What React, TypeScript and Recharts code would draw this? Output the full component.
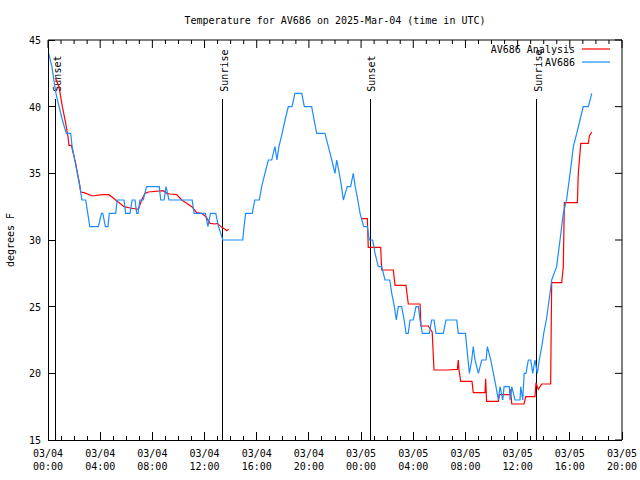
import React from "react";
import {
  LineChart,
  Line,
  XAxis,
  YAxis,
  ReferenceLine,
} from "recharts";

// hours since 03/04 00:00 UTC
const blueHours = [
  0.05, 0.3, 0.45, 0.61, 0.85, 1.1, 1.4, 1.74, 1.85, 2.05, 2.25, 2.45, 2.6, 2.89, 3.05, 3.2, 3.86,
  4.1, 4.2, 4.4, 4.6, 4.7, 5.19, 5.3, 5.83, 5.95, 6.29, 6.45, 6.67, 6.8, 6.9, 7.05, 7.3, 7.55,
  8.53, 8.64, 8.9, 9.05, 9.27, 11.05, 11.2, 12.06, 12.26, 12.45, 12.86, 13.07, 13.4, 14.93,
  15.03, 15.15, 15.66, 15.85, 16.2, 16.38, 16.63, 16.89, 17.15, 17.4, 17.55, 17.7, 17.95,
  18.17, 18.42, 18.7, 18.93, 19.45, 19.65, 20.21, 20.4, 20.6, 21.23, 21.49, 21.75, 22.0,
  22.13, 22.33, 22.5, 22.64, 22.94, 23.2, 23.4, 23.55, 23.75, 23.92, 24.2, 24.48, 24.63,
  24.89, 25.07, 25.32, 25.58, 25.83, 26.2, 26.35, 26.55, 26.7, 26.85, 27.11, 27.3, 27.45,
  27.62, 27.75, 28.0, 28.21, 28.39, 28.52, 28.7, 29.23, 29.41, 29.59, 29.74, 30.3, 30.51,
  31.33, 31.45, 32.0, 32.1, 32.2, 32.3, 32.48, 32.6, 32.73, 32.99, 33.25, 33.58, 33.68,
  33.94, 34.14, 34.34, 34.52, 34.65, 34.86, 34.96, 35.36, 35.42, 35.55, 35.8, 36.18, 36.24,
  36.39, 36.5, 36.64, 36.82, 37.0, 37.16, 37.33, 37.51, 37.66, 37.85, 38.0, 38.2, 38.48,
  38.61, 38.99, 39.25, 39.5, 39.75, 40.02, 40.27, 40.53, 40.78, 41.03, 41.42, 41.68,
];
const blueTemps = [
  44, 43, 42, 41, 40, 39, 38, 38, 37, 36, 35, 34, 33, 33, 32, 31, 31,
  32, 32, 31, 31, 32, 32, 33, 33, 32, 32, 33, 33, 32, 32, 33, 33, 34,
  34, 33, 33, 34, 33, 33, 32, 32, 31, 32, 32, 31, 30, 30,
  31, 32, 32, 33, 33, 34, 35, 36, 36, 37, 36, 37, 38,
  39, 40, 40, 41, 41, 40, 40, 39, 38, 38, 37, 36, 35,
  36, 35, 34, 33, 34, 34, 35, 34, 33, 32, 31, 31, 30,
  30, 29, 28, 28, 27, 27, 26, 25, 24, 25, 25, 24, 23,
  23, 24, 24, 25, 25, 24, 23, 23, 24, 24, 23, 23, 24,
  24, 23, 23, 22, 21, 20, 21, 22, 21, 20, 21, 21, 22,
  21, 20, 19, 18, 19, 18, 19, 19, 18, 19, 18, 18, 19,
  18, 20, 20, 21, 21, 20, 21, 20, 21, 22, 23, 24, 26,
  27, 28, 30, 32, 33, 35, 37, 38, 39, 40, 40, 41,
];

const redHours = [
  0.59, 0.84, 1.1, 1.36, 1.53, 1.61, 1.79, 2.12, 2.38, 2.51, 2.76, 3.4, 4.16, 4.68, 5.19,
  5.83, 6.29, 6.92, 7.18, 7.44, 7.69, 8.84, 9.1, 9.35, 9.87, 10.25, 10.63, 11.02, 11.4,
  11.78, 12.11, 12.42, 12.8, 12.98, 13.32, 13.57, 13.7, 13.85,
  18,
  24.05, 24.48, 24.55, 25.5, 25.58, 26.47, 26.6, 27.44, 27.62, 28.52, 28.59, 29.15, 29.45,
  29.59, 30.56, 31.38, 31.45, 31.5, 31.64, 32.5, 32.6, 33.5, 33.55, 33.62, 34.52, 34.6,
  35.4, 35.45, 35.55, 36.49, 36.62, 37.33, 37.41, 37.58, 37.85, 38.53, 38.61, 39.38, 39.5,
  39.58, 40.58, 40.65, 40.84, 41.42, 41.5, 41.68,
];
const redTemps: (number | null)[] = [
  42.1, 41.5, 40, 38.75, 37.75, 37.1, 37.1, 35.75, 34.4, 33.6, 33.55, 33.3, 33.4, 33.4, 33,
  32.5, 32.4, 32.3, 33, 33.5, 33.6, 33.7, 33.5, 33.45, 33.4, 33, 32.75, 32.5, 32.05,
  32, 31.75, 31.25, 31.2, 31.25, 30.95, 30.8, 30.7, 30.8,
  null,
  31.6, 31.6, 29.45, 29.45, 27.75, 27.75, 26.6, 26.6, 25.2, 25.2, 23.55, 23.55, 23.1,
  20.25, 20.25, 20.3, 21, 20.3, 19.4, 19.4, 18.55, 18.55, 19.6, 17.9, 17.9, 18.4,
  18.4, 18.8, 17.7, 17.7, 18.25, 18.25, 19.3, 18.8, 19.2, 19.2, 26.8, 26.8, 28,
  32.8, 32.8, 35, 37.25, 37.25, 37.8, 38.1,
];

const sunHours = [0.61, 13.38, 24.72, 37.45];
const sunNames = ["Sunset", "Sunrise", "Sunset", "Sunrise"];
const sunLineTop = 40.6;

const majorHours = [0, 4, 8, 12, 16, 20, 24, 28, 32, 36, 40, 44];
const tickDates = ["03/04", "03/04", "03/04", "03/04", "03/04", "03/04", "03/05", "03/05", "03/05", "03/05", "03/05", "03/05"];
const tickTimes = ["00:00", "04:00", "08:00", "12:00", "16:00", "20:00", "00:00", "04:00", "08:00", "12:00", "16:00", "20:00"];
const yTicks = [15, 20, 25, 30, 35, 40, 45];

const X_MIN = 0;
const X_MAX = 44;
const Y_MIN = 15;
const Y_MAX = 45;

const blueData = blueHours.map((t, i) => ({ t, v: blueTemps[i] }));
const redData = redHours.map((t, i) => ({ t, v: redTemps[i] }));
const hourTicks = Array.from({ length: 45 }, (_, i) => i);

const FONT = "'DejaVu Sans Mono', monospace";
const txt = { fontFamily: FONT, fontSize: 10, fill: "#000" };

const BottomTick = ({ x, y, payload }: any) => {
  const i = majorHours.indexOf(payload.value);
  return (
    <g>
      <line x1={x} y1={y} x2={x} y2={y - (i >= 0 ? 8 : 4)} stroke="#000" shapeRendering="crispEdges" />
      {i >= 0 && (
        <>
          <text x={x} y={y + 17} textAnchor="middle" {...txt}>{tickDates[i]}</text>
          <text x={x} y={y + 30} textAnchor="middle" {...txt}>{tickTimes[i]}</text>
        </>
      )}
    </g>
  );
};

const LeftTick = ({ x, y, payload }: any) => (
  <g>
    <line x1={x} y1={y} x2={x + 7} y2={y} stroke="#000" shapeRendering="crispEdges" />
    <text x={x - 7} y={y + 4} textAnchor="end" {...txt}>{payload.value}</text>
  </g>
);

const SunLabel = ({ viewBox, name }: any) => {
  const x = viewBox.x + 5;
  const y = viewBox.y - 7;
  return (
    <text x={x} y={y} transform={`rotate(-90 ${x} ${y})`} textAnchor="start" {...txt}>
      {name}
    </text>
  );
};

const axisStroke = { stroke: "#000", shapeRendering: "crispEdges" };

// mirrored tick lengths, in data units (about 8/4 px and 7 px)
const topMajorLen = 0.6;
const topMinorLen = 0.3;
const rightLen = 0.54;

export default function App() {
  return (
    <div style={{ position: "absolute", left: 0, top: 0, width: 640, height: 480, background: "#fff" }}>
      <LineChart width={640} height={480} margin={{ top: 40, right: 18, bottom: 0, left: 0 }}>
        <XAxis
          dataKey="t"
          type="number"
          domain={[X_MIN, X_MAX]}
          ticks={hourTicks}
          interval={0}
          height={40}
          tickSize={0}
          tickMargin={0}
          tickLine={false}
          axisLine={axisStroke}
          tick={<BottomTick />}
          allowDataOverflow
        />
        <YAxis
          type="number"
          domain={[Y_MIN, Y_MAX]}
          ticks={yTicks}
          interval={0}
          width={48}
          tickSize={0}
          tickMargin={0}
          tickLine={false}
          axisLine={axisStroke}
          tick={<LeftTick />}
          allowDataOverflow
        />
        {/* top and right border with mirrored ticks */}
        <ReferenceLine y={Y_MAX} stroke="#000" ifOverflow="visible" />
        <ReferenceLine x={X_MAX} stroke="#000" ifOverflow="visible" />
        {hourTicks.map((h) => (
          <ReferenceLine
            key={"t" + h}
            ifOverflow="visible"
            segment={[
              { x: h, y: Y_MAX },
              { x: h, y: Y_MAX - (majorHours.includes(h) ? topMajorLen : topMinorLen) },
            ]}
            stroke="#000"
          />
        ))}
        {yTicks.map((v) => (
          <ReferenceLine
            key={"r" + v}
            ifOverflow="visible"
            segment={[{ x: X_MAX, y: v }, { x: X_MAX - rightLen, y: v }]}
            stroke="#000"
          />
        ))}
        {sunHours.map((h, i) => (
          <ReferenceLine
            key={i}
            segment={[{ x: h, y: Y_MIN }, { x: h, y: sunLineTop }]}
            stroke="#000"
            strokeWidth={1}
            shapeRendering="crispEdges"
            label={<SunLabel name={sunNames[i]} />}
          />
        ))}
        <Line
          data={redData}
          dataKey="v"
          type="linear"
          stroke="#ff0000"
          strokeWidth={1.2}
          dot={false}
          isAnimationActive={false}
        />
        <Line
          data={blueData}
          dataKey="v"
          type="linear"
          stroke="#1a8cff"
          strokeWidth={1.2}
          dot={false}
          isAnimationActive={false}
        />
      </LineChart>
      <svg
        width={640}
        height={480}
        style={{ position: "absolute", left: 0, top: 0, pointerEvents: "none" }}
      >
        <text x={335} y={24} textAnchor="middle" {...txt}>
          Temperature for AV686 on 2025-Mar-04 (time in UTC)
        </text>
        <text x={14} y={240} textAnchor="middle" transform="rotate(-90 14 240)" {...txt}>
          degrees F
        </text>
        <text x={575} y={53} textAnchor="end" {...txt}>AV686 Analysis</text>
        <line x1={582} y1={49} x2={610} y2={49} stroke="#ff0000" strokeWidth={1.2} />
        <text x={575} y={66} textAnchor="end" {...txt}>AV686</text>
        <line x1={582} y1={62} x2={610} y2={62} stroke="#1a8cff" strokeWidth={1.2} />
      </svg>
    </div>
  );
}
